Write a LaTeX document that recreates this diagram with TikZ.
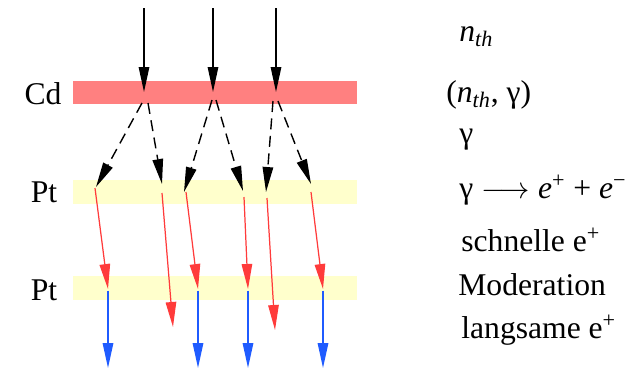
\documentclass[tikz,border=0pt]{standalone}
\usepackage{fontspec}
\setmainfont{Liberation Serif}
\usetikzlibrary{arrows.meta,calc}

\definecolor{cdred}{HTML}{FF8080}
\definecolor{ptyellow}{HTML}{FFFFCC}
\definecolor{posred}{HTML}{FF3B3B}
\definecolor{slowblue}{HTML}{1F5BFF}

\tikzset{
  longhead/.style={-{Triangle[length=5mm,width=2.1mm]}},
  neutron/.style={longhead, black, line width=0.8pt},
  photon/.style={longhead, black, line width=0.8pt, dash pattern=on 0.22cm off 0.13cm},
  fastpos/.style={longhead, posred, line width=0.7pt},
  slowpos/.style={longhead, slowblue, line width=0.9pt},
  rowtext/.style={anchor=west, inner sep=0pt},
  layer/.style={inner sep=0pt},
}

\begin{document}
\begin{tikzpicture}[x=0.02cm, y=-0.02cm, font=\fontsize{18}{22}\selectfont]
\useasboundingbox (0,0) rectangle (629,370);

% layers
\fill[cdred] (73,81) rectangle (357,104);
\fill[ptyellow] (73,180) rectangle (357,204);
\fill[ptyellow] (73,276) rectangle (357,300);
\node[layer] (cd) at (43,94) {Cd};
\node[layer] (pt1) at (44,192) {Pt};
\node[layer] (pt2) at (44,290) {Pt};

% thermal neutrons
\foreach \i/\x in {1/144, 2/213, 3/276} {
  \coordinate (top\i) at (\x,8);
  \coordinate (hit\i) at (\x,92);
  \draw[neutron] (top\i) -- (hit\i);
}

% gammas
\foreach \name/\x/\y in {s1/142/103, s2/148/103, s3/212/100, s4/216/100, s5/273/101, s6/278/101,
                         g1/96/187, g2/162/184, g3/184/192, g4/243/191, g5/266/192, g6/311/184}
  \coordinate (\name) at (\x,\y);
\foreach \i in {1,...,6}
  \draw[photon] (s\i) -- (g\i);

% fast positrons
\foreach \name/\x/\y in {f1/95/188, f2/162/193, f3/186/192, f4/244/197, f5/267/198, f6/311/192,
                         m1/108/289, m2/173/327, m3/198/289, m4/248/289, m5/275/330, m6/323/289}
  \coordinate (\name) at (\x,\y);
\foreach \i in {1,...,6}
  \draw[fastpos] (f\i) -- (m\i);

% moderated positrons
\foreach \i in {1,3,4,6} {
  \coordinate (end\i) at ($(m\i)+(0,79)$);
  \draw[slowpos] ([yshift=-0.03cm]m\i) -- (end\i);
}

% right column
\node[rowtext] (r1) at (459,37) {\textit{n}\textsubscript{\textit{th}}};
\node[rowtext] (r2) at (446,95) {(\textit{n}\textsubscript{\textit{th}}, γ)};
\node[rowtext] (r3) at (459,140) {γ};
\node[rowtext] (r4) at (459,190) {γ $\longrightarrow$ \textit{e}\textsuperscript{+} + \textit{e}\textsuperscript{−}};
\node[rowtext] (r5) at (461,240) {schnelle e\textsuperscript{+}};
\node[rowtext] (r6) at (458,285) {Moderation};
\node[rowtext] (r7) at (461,330) {langsame e\textsuperscript{+}};
\end{tikzpicture}
\end{document}
